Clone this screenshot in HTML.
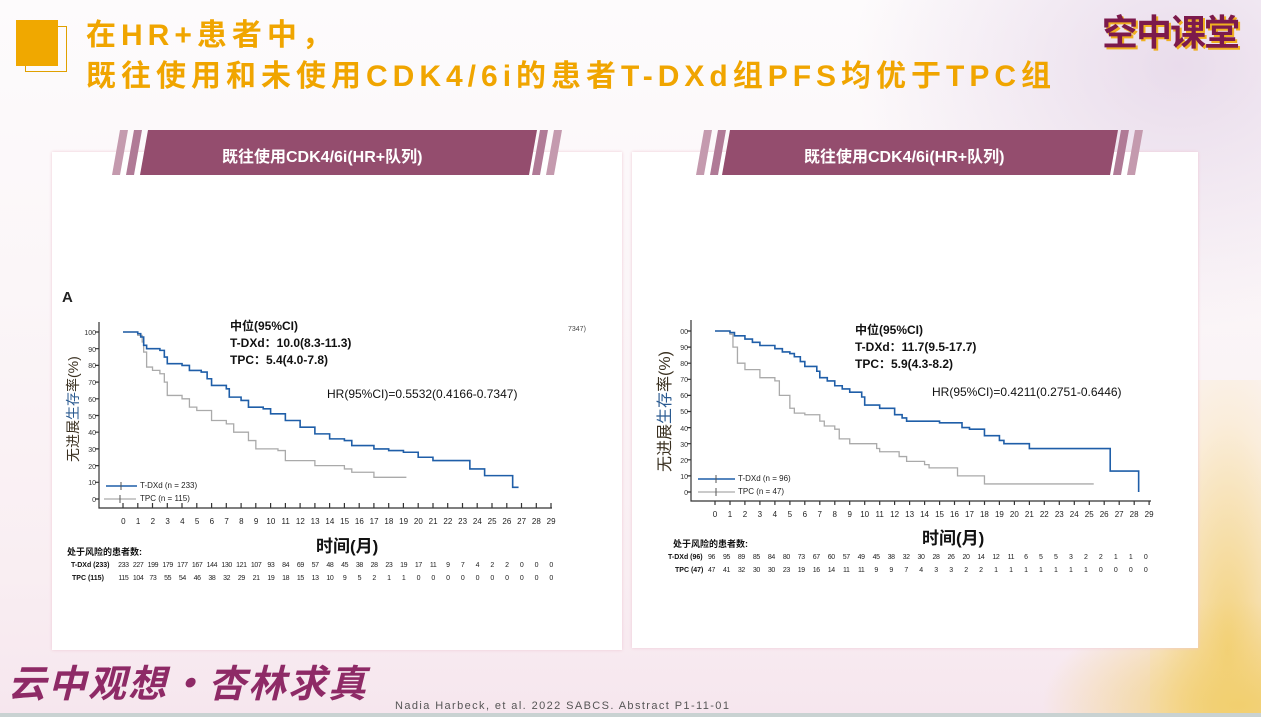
<!DOCTYPE html>
<html><head><meta charset="utf-8"><style>
*{margin:0;padding:0;box-sizing:border-box}
body{width:1261px;height:717px;overflow:hidden;position:relative;font-family:"Liberation Sans","Noto Sans CJK SC",sans-serif;
background:linear-gradient(180deg,#fdfbfc 0%,#fbf6f8 40%,#f9eef2 80%,#f6e6ee 100%);}
.abs{position:absolute;white-space:nowrap}
.title{color:#f0a500;font-weight:bold;font-size:30px;letter-spacing:5px;font-family:"Liberation Sans","Noto Sans CJK SC",sans-serif}
.panel{position:absolute;background:#fff;box-shadow:0 0 3px #f0c8d4}
.row{position:absolute;display:flex;font-size:8px;color:#222;font-family:"Liberation Sans",sans-serif}
.row span{display:inline-block;text-align:center}
.row.s{font-size:7px;letter-spacing:-0.4px}
.lab{font-size:8px;color:#222}
.b{font-weight:bold}
</style></head><body>
<div class="abs" style="left:850px;top:0;width:411px;height:330px;background:radial-gradient(ellipse at 80% 20%,rgba(220,200,225,.6),rgba(255,255,255,0) 70%)"></div>
<div class="abs" style="left:1150px;top:380px;width:111px;height:337px;background:radial-gradient(ellipse at 70% 80%,#f3d27a,rgba(250,230,180,.4) 60%,rgba(255,255,255,0) 90%)"></div>
<div class="abs" style="left:1040px;top:600px;width:221px;height:117px;background:radial-gradient(ellipse at 90% 90%,#f2cf6f,rgba(255,240,200,0) 70%)"></div>

<div class="abs" style="left:25px;top:26px;width:42px;height:46px;border:1px solid #e0a000;background:transparent"></div>
<div class="abs" style="left:16px;top:20px;width:42px;height:46px;background:#f0a800"></div>
<div class="abs title" style="left:86px;top:10px">在HR+患者中，</div>
<div class="abs title" style="left:86px;top:51px">既往使用和未使用CDK4/6i的患者T-DXd组PFS均优于TPC组</div>
<div class="abs" style="left:1102px;top:4px;font-size:36px;font-weight:bold;color:#7c1a4c;letter-spacing:-2px;font-family:'Noto Sans CJK SC',sans-serif;text-shadow:2px 2px 0 #f0b020">空中课堂</div>

<div class="panel" style="left:52px;top:152px;width:570px;height:498px"></div>
<div class="panel" style="left:632px;top:152px;width:566px;height:496px"></div>

<svg class="abs" style="left:0;top:0" width="1261" height="717">
 <polygon points="112,175 120,130 128,130 120,175" fill="#c49aae"/>
 <polygon points="126,175 134,130 142,130 134,175" fill="#b07a96"/>
 <polygon points="140,175 148,130 537,130 529,175" fill="#944d6e"/>
 <polygon points="532,175 540,130 548,130 540,175" fill="#b07a96"/>
 <polygon points="546,175 554,130 562,130 554,175" fill="#c49aae"/>
 <polygon points="696,175 704,130 712,130 704,175" fill="#c49aae"/>
 <polygon points="710,175 718,130 726,130 718,175" fill="#b07a96"/>
 <polygon points="722,175 730,130 1118,130 1110,175" fill="#944d6e"/>
 <polygon points="1113,175 1121,130 1129,130 1121,175" fill="#b07a96"/>
 <polygon points="1127,175 1135,130 1143,130 1135,175" fill="#c49aae"/>

 <g stroke="#333" stroke-width="1.2" fill="none">
  <path d="M99 322 V508 H552"/>
  <path d="M95 332 H99 M95 348.7 H99 M95 365.4 H99 M95 382.1 H99 M95 398.8 H99 M95 415.5 H99 M95 432.2 H99 M95 448.9 H99 M95 465.6 H99 M95 482.3 H99 M95 499 H99"/>
  <path d="M123 503V508M137.8 503V508M152.5 503V508M167.3 503V508M182 503V508M196.8 503V508M211.6 503V508M226.3 503V508M241.1 503V508M255.8 503V508M270.6 503V508M285.4 503V508M300.1 503V508M314.9 503V508M329.6 503V508M344.4 503V508M359.2 503V508M373.9 503V508M388.7 503V508M403.4 503V508M418.2 503V508M433 503V508M447.7 503V508M462.5 503V508M477.2 503V508M492 503V508M506.8 503V508M521.5 503V508M536.3 503V508M551 503V508"/>
 </g>
 <g transform="translate(123,499) scale(14.76,-1.67)" fill="none">
  <path vector-effect="non-scaling-stroke" stroke="#aaa" stroke-width="1.3" d="M0 100H1V98H1.3V94H1.4V88H1.6V79H2V77H2.5V75H2.8V70H3V62H4V60H4.5V55H5V53H6V47H7V45H7.5V40H8.5V35H9V30H10.5V29H11V23H13V20H15V18H15.5V16H17V13H19.2"/>
  <path vector-effect="non-scaling-stroke" stroke="#1f5ea8" stroke-width="1.6" d="M0 100H1V99H1.2V97H1.4V92H1.6V90H2.5V89H2.8V85H3V81H4V80H4.5V77H5.3V76H5.7V72H6V68H7V66H7.2V61H8V59H8.5V55H9.5V54H10V51H11V47H12V43H13V39H14V36H15V35H15.5V32H17V30H18V29H19V28H20V25H21V23H23.5V18H24.5V14H26.4V7H26.8"/>
 </g>
 <path d="M106 486H137" stroke="#1f5ea8" stroke-width="1.5"/>
 <path d="M104 499H136" stroke="#aaa" stroke-width="1.3"/>
 <path d="M121 482V490M120 495V503" stroke="#555" stroke-width="1"/>

 <g stroke="#333" stroke-width="1.2" fill="none">
  <path d="M691 320 V501 H1151"/>
  <path d="M687 331 H691 M687 347.1 H691 M687 363.2 H691 M687 379.3 H691 M687 395.4 H691 M687 411.5 H691 M687 427.6 H691 M687 443.7 H691 M687 459.8 H691 M687 475.9 H691 M687 492 H691"/>
  <path d="M715 501V505M730 501V505M744.9 501V505M759.9 501V505M774.9 501V505M789.9 501V505M804.8 501V505M819.8 501V505M834.8 501V505M849.7 501V505M864.7 501V505M879.7 501V505M894.6 501V505M909.6 501V505M924.6 501V505M939.6 501V505M954.5 501V505M969.5 501V505M984.5 501V505M999.4 501V505M1014.4 501V505M1029.4 501V505M1044.3 501V505M1059.3 501V505M1074.3 501V505M1089.3 501V505M1104.2 501V505M1119.2 501V505M1134.2 501V505M1149.1 501V505"/>
 </g>
 <g transform="translate(715,492) scale(14.97,-1.61)" fill="none">
  <path vector-effect="non-scaling-stroke" stroke="#aaa" stroke-width="1.3" d="M0 100H1V98H1.2V90H1.5V80H2V76H3V71H4V69H4.3V60H5V52H5.3V49H6V48H7V44H7.3V41H8V39H8.3V33H9V30H10.8V27H11V25H12.3V22H12.8V19H14V17H14.3V15H16.2V10H18V5H25.3"/>
  <path vector-effect="non-scaling-stroke" stroke="#1f5ea8" stroke-width="1.6" d="M0 100H1V99H1.3V97H2V95H2.5V93H3V91H4V89H4.5V87H5V86H5.3V84H5.7V81H6V78H6.8V75H7V71H7.5V69H8V66H8.5V64H9V62H9.8V59H10V54H11V52H12V48H12.5V46H12.8V44H15V43H16.5V40H17V39H18V35H19V32H19.3V30H21V27H26.4V13H28.3V0"/>
 </g>
 <path d="M698 479H735" stroke="#1f5ea8" stroke-width="1.5"/>
 <path d="M698 492H735" stroke="#aaa" stroke-width="1.3"/>
 <path d="M716 475V483M716 488V496" stroke="#555" stroke-width="1"/>
</svg>

<div class="abs b" style="left:222px;top:143px;font-size:16px;color:#fff">既往使用CDK4/6i(HR+队列)</div>
<div class="abs b" style="left:804px;top:143px;font-size:16px;color:#fff">既往使用CDK4/6i(HR+队列)</div>

<div class="abs b" style="left:62px;top:289px;font-size:15px;color:#222">A</div>
<div class="abs" style="left:63px;top:462px;transform:rotate(-90deg);transform-origin:0 0;font-size:14px;color:#3a3020;width:0">无进展<span style="color:#2a5a90">生存</span>率(%)</div>
<div class="abs" style="left:74px;top:326px;width:22px;text-align:right;font-size:7px;line-height:16.7px;color:#333">100<br>90<br>80<br>70<br>60<br>50<br>40<br>30<br>20<br>10<br>0</div>
<div class="abs b" style="left:230px;top:318px;font-size:12px;line-height:17px;color:#111">中位(95%CI)<br>T-DXd：10.0(8.3-11.3)<br>TPC：5.4(4.0-7.8)</div>
<div class="abs" style="left:327px;top:387px;font-size:12px;color:#111">HR(95%CI)=0.5532(0.4166-0.7347)</div>
<div class="abs" style="left:568px;top:326px;font-size:7px;color:#444">7347)</div>
<div class="abs lab" style="left:140px;top:481px">T-DXd (n = 233)</div>
<div class="abs lab" style="left:140px;top:494px">TPC (n = 115)</div>
<div class="row" style="left:116px;top:517px"><span style="width:14.76px">0</span><span style="width:14.76px">1</span><span style="width:14.76px">2</span><span style="width:14.76px">3</span><span style="width:14.76px">4</span><span style="width:14.76px">5</span><span style="width:14.76px">6</span><span style="width:14.76px">7</span><span style="width:14.76px">8</span><span style="width:14.76px">9</span><span style="width:14.76px">10</span><span style="width:14.76px">11</span><span style="width:14.76px">12</span><span style="width:14.76px">13</span><span style="width:14.76px">14</span><span style="width:14.76px">15</span><span style="width:14.76px">16</span><span style="width:14.76px">17</span><span style="width:14.76px">18</span><span style="width:14.76px">19</span><span style="width:14.76px">20</span><span style="width:14.76px">21</span><span style="width:14.76px">22</span><span style="width:14.76px">23</span><span style="width:14.76px">24</span><span style="width:14.76px">25</span><span style="width:14.76px">26</span><span style="width:14.76px">27</span><span style="width:14.76px">28</span><span style="width:14.76px">29</span></div>
<div class="abs b" style="left:316px;top:532px;font-size:17px;color:#111">时间(月)</div>
<div class="abs b" style="left:67px;top:545px;font-size:9px;color:#111">处于风险的患者数:</div>
<div class="abs b" style="left:71px;top:562px;font-size:7px;color:#111">T-DXd (233)</div>
<div class="abs b" style="left:72px;top:575px;font-size:7px;color:#111">TPC (115)</div>
<div class="row s" style="left:116px;top:562px"><span style="width:14.76px">233</span><span style="width:14.76px">227</span><span style="width:14.76px">199</span><span style="width:14.76px">179</span><span style="width:14.76px">177</span><span style="width:14.76px">167</span><span style="width:14.76px">144</span><span style="width:14.76px">130</span><span style="width:14.76px">121</span><span style="width:14.76px">107</span><span style="width:14.76px">93</span><span style="width:14.76px">84</span><span style="width:14.76px">69</span><span style="width:14.76px">57</span><span style="width:14.76px">48</span><span style="width:14.76px">45</span><span style="width:14.76px">38</span><span style="width:14.76px">28</span><span style="width:14.76px">23</span><span style="width:14.76px">19</span><span style="width:14.76px">17</span><span style="width:14.76px">11</span><span style="width:14.76px">9</span><span style="width:14.76px">7</span><span style="width:14.76px">4</span><span style="width:14.76px">2</span><span style="width:14.76px">2</span><span style="width:14.76px">0</span><span style="width:14.76px">0</span><span style="width:14.76px">0</span></div>
<div class="row s" style="left:116px;top:575px"><span style="width:14.76px">115</span><span style="width:14.76px">104</span><span style="width:14.76px">73</span><span style="width:14.76px">55</span><span style="width:14.76px">54</span><span style="width:14.76px">46</span><span style="width:14.76px">38</span><span style="width:14.76px">32</span><span style="width:14.76px">29</span><span style="width:14.76px">21</span><span style="width:14.76px">19</span><span style="width:14.76px">18</span><span style="width:14.76px">15</span><span style="width:14.76px">13</span><span style="width:14.76px">10</span><span style="width:14.76px">9</span><span style="width:14.76px">5</span><span style="width:14.76px">2</span><span style="width:14.76px">1</span><span style="width:14.76px">1</span><span style="width:14.76px">0</span><span style="width:14.76px">0</span><span style="width:14.76px">0</span><span style="width:14.76px">0</span><span style="width:14.76px">0</span><span style="width:14.76px">0</span><span style="width:14.76px">0</span><span style="width:14.76px">0</span><span style="width:14.76px">0</span><span style="width:14.76px">0</span></div>

<div class="abs" style="left:651px;top:472px;transform:rotate(-90deg);transform-origin:0 0;font-size:16px;color:#3a3020;width:0">无进展<span style="color:#2a5a90">生存</span>率(%)</div>
<div class="abs" style="left:666px;top:325px;width:22px;text-align:right;font-size:7px;line-height:16.1px;color:#333">00<br>90<br>80<br>70<br>60<br>50<br>40<br>30<br>20<br>10<br>0</div>
<div class="abs b" style="left:855px;top:322px;font-size:12px;line-height:17px;color:#111">中位(95%CI)<br>T-DXd：11.7(9.5-17.7)<br>TPC：5.9(4.3-8.2)</div>
<div class="abs" style="left:932px;top:385px;font-size:12px;color:#111">HR(95%CI)=0.4211(0.2751-0.6446)</div>
<div class="abs lab" style="left:738px;top:474px">T-DXd (n = 96)</div>
<div class="abs lab" style="left:738px;top:487px">TPC (n = 47)</div>
<div class="row" style="left:707.5px;top:510px"><span style="width:14.97px">0</span><span style="width:14.97px">1</span><span style="width:14.97px">2</span><span style="width:14.97px">3</span><span style="width:14.97px">4</span><span style="width:14.97px">5</span><span style="width:14.97px">6</span><span style="width:14.97px">7</span><span style="width:14.97px">8</span><span style="width:14.97px">9</span><span style="width:14.97px">10</span><span style="width:14.97px">11</span><span style="width:14.97px">12</span><span style="width:14.97px">13</span><span style="width:14.97px">14</span><span style="width:14.97px">15</span><span style="width:14.97px">16</span><span style="width:14.97px">17</span><span style="width:14.97px">18</span><span style="width:14.97px">19</span><span style="width:14.97px">20</span><span style="width:14.97px">21</span><span style="width:14.97px">22</span><span style="width:14.97px">23</span><span style="width:14.97px">24</span><span style="width:14.97px">25</span><span style="width:14.97px">26</span><span style="width:14.97px">27</span><span style="width:14.97px">28</span><span style="width:14.97px">29</span></div>
<div class="abs b" style="left:922px;top:524px;font-size:17px;color:#111">时间(月)</div>
<div class="abs b" style="left:673px;top:537px;font-size:9px;color:#111">处于风险的患者数:</div>
<div class="abs b" style="left:668px;top:554px;font-size:7px;color:#111">T-DXd (96)</div>
<div class="abs b" style="left:675px;top:567px;font-size:7px;color:#111">TPC (47)</div>
<div class="row s" style="left:704px;top:554px"><span style="width:14.97px">96</span><span style="width:14.97px">95</span><span style="width:14.97px">89</span><span style="width:14.97px">85</span><span style="width:14.97px">84</span><span style="width:14.97px">80</span><span style="width:14.97px">73</span><span style="width:14.97px">67</span><span style="width:14.97px">60</span><span style="width:14.97px">57</span><span style="width:14.97px">49</span><span style="width:14.97px">45</span><span style="width:14.97px">38</span><span style="width:14.97px">32</span><span style="width:14.97px">30</span><span style="width:14.97px">28</span><span style="width:14.97px">26</span><span style="width:14.97px">20</span><span style="width:14.97px">14</span><span style="width:14.97px">12</span><span style="width:14.97px">11</span><span style="width:14.97px">6</span><span style="width:14.97px">5</span><span style="width:14.97px">5</span><span style="width:14.97px">3</span><span style="width:14.97px">2</span><span style="width:14.97px">2</span><span style="width:14.97px">1</span><span style="width:14.97px">1</span><span style="width:14.97px">0</span></div>
<div class="row s" style="left:704px;top:567px"><span style="width:14.97px">47</span><span style="width:14.97px">41</span><span style="width:14.97px">32</span><span style="width:14.97px">30</span><span style="width:14.97px">30</span><span style="width:14.97px">23</span><span style="width:14.97px">19</span><span style="width:14.97px">16</span><span style="width:14.97px">14</span><span style="width:14.97px">11</span><span style="width:14.97px">11</span><span style="width:14.97px">9</span><span style="width:14.97px">9</span><span style="width:14.97px">7</span><span style="width:14.97px">4</span><span style="width:14.97px">3</span><span style="width:14.97px">3</span><span style="width:14.97px">2</span><span style="width:14.97px">2</span><span style="width:14.97px">1</span><span style="width:14.97px">1</span><span style="width:14.97px">1</span><span style="width:14.97px">1</span><span style="width:14.97px">1</span><span style="width:14.97px">1</span><span style="width:14.97px">1</span><span style="width:14.97px">0</span><span style="width:14.97px">0</span><span style="width:14.97px">0</span><span style="width:14.97px">0</span></div>

<div class="abs b" style="left:8px;top:656px;font-size:38px;font-style:italic;letter-spacing:2px;color:#8e2a66;font-family:'Noto Sans CJK SC',sans-serif;line-height:50px">云中观想·杏林求真</div>
<div class="abs" style="left:395px;top:700px;font-size:11px;letter-spacing:1.4px;color:#555">Nadia Harbeck, et al. 2022 SABCS. Abstract P1-11-01</div>
<div class="abs" style="left:0;top:713px;width:1261px;height:4px;background:#c9d2d2"></div>
</body></html>
